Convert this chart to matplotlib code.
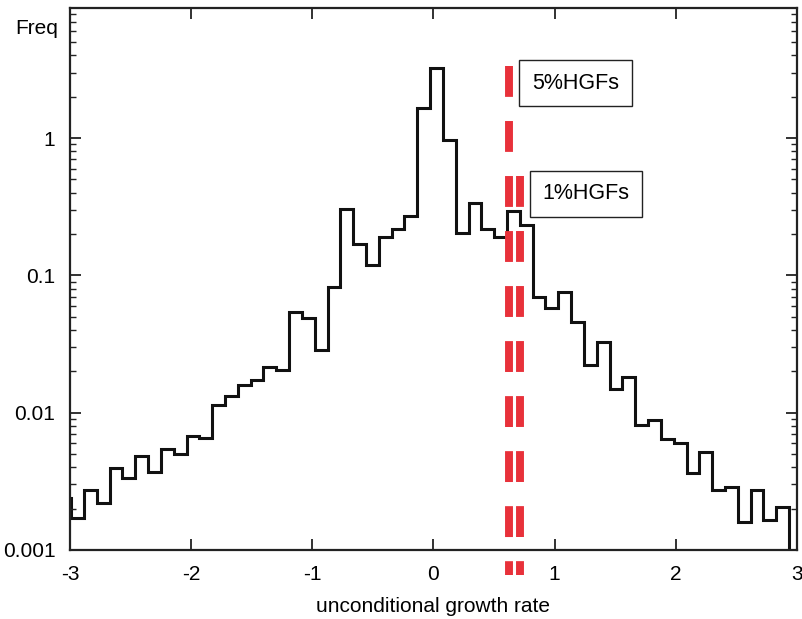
import numpy as np
import matplotlib
matplotlib.use('Agg')
import matplotlib.pyplot as plt

plt.rcParams['font.family'] = ['Liberation Sans', 'DejaVu Sans']

# histogram (log frequency), first bin is partly outside the x range
bin_start = -3.096
bin_width = 0.1058
freq = [0.0024,
        0.0017, 0.00273, 0.0022, 0.00394, 0.00333, 0.00484, 0.00368, 0.0054, 0.00497, 0.0068,
        0.0065, 0.0114, 0.0132, 0.0159, 0.0173, 0.0216, 0.0205, 0.0538, 0.0492, 0.0286,
        0.0828, 0.305, 0.169, 0.119, 0.190, 0.217, 0.271, 1.65, 3.22, 0.97,
        0.203, 0.339, 0.217, 0.191, 0.296, 0.233, 0.070, 0.0576, 0.076, 0.046,
        0.0222, 0.0329, 0.0148, 0.0181, 0.00813, 0.00885, 0.0064, 0.00598, 0.00362, 0.0052,
        0.00273, 0.00289, 0.00161, 0.00273, 0.00165, 0.00207]

# thresholds for high growth firms
hgf_names = ['5%HGFs', '1%HGFs']
hgf_x = [0.625, 0.718]
hgf_top = [3.35, 0.53]
label_pos = [(1.170, 2.52), (1.258, 0.392)]

xticks = [-3, -2, -1, 0, 1, 2, 3]
yticks = [0.001, 0.01, 0.1, 1]
ytick_labels = ['0.001', '0.01', '0.1', '1']

fig = plt.figure(figsize=(8.03, 6.19), dpi=100)
ax = fig.add_axes([0.0872, 0.1115, 0.9053, 0.8756])

edges = bin_start + bin_width * np.arange(len(freq) + 1)
ax.stairs(freq, edges, baseline=1e-5, color='#111111', linewidth=2.2)

red = '#e8313a'
for x, top in zip(hgf_x, hgf_top):
    ax.plot([x, x], [top, 0.00066], color=red, linewidth=5.7,
            linestyle=(0, (3.9, 3.05)), solid_capstyle='butt',
            dash_capstyle='butt', clip_on=False, zorder=3)

for name, (tx, ty) in zip(hgf_names, label_pos):
    ax.text(tx, ty, name, fontsize=15.5, ha='center', va='center', zorder=4,
            bbox=dict(boxstyle='square,pad=0.6', facecolor='white',
                      edgecolor='#222222', linewidth=1.0))

ax.set_yscale('log')
ax.set_xlim(-3, 3)
ax.set_ylim(0.001, 8.87)
ax.set_xticks(xticks)
ax.set_xticklabels([str(t) for t in xticks])
ax.set_yticks(yticks)
ax.set_yticklabels(ytick_labels)

ax.tick_params(which='both', direction='in', top=True, right=True,
               labelsize=15, color='#222222')
ax.tick_params(which='major', length=8, width=1.3, pad=10.5)
ax.tick_params(which='minor', length=4, width=1.0)
ax.tick_params(axis='x', which='minor', top=False, bottom=False)
for s in ax.spines.values():
    s.set_linewidth(1.6)
    s.set_color('#222222')

ax.set_xlabel('unconditional growth rate', fontsize=15, labelpad=10)
ax.set_ylabel('Freq', fontsize=15, rotation=0, ha='right', va='center')
ax.yaxis.set_label_coords(-0.016, 0.963)

fig.savefig('out.png', dpi=100)
